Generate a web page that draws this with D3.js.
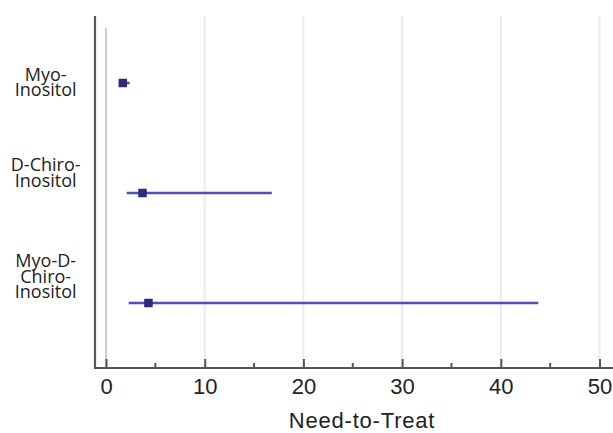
<!DOCTYPE html>
<html><head><meta charset="utf-8">
<script src="https://cdn.jsdelivr.net/npm/d3@7"></script>
<style>html,body{margin:0;padding:0;background:#fff;}svg{display:block;}</style>
</head><body>
<svg id="c" width="613" height="433"></svg>
<script>
const categories = ["Myo-Inositol", "D-Chiro-Inositol", "Myo-D-Chiro-Inositol"];
const labelLines = [["Myo-", "Inositol"], ["D-Chiro-", "Inositol"], ["Myo-D-", "Chiro-", "Inositol"]];
const estimates = [1.7, 3.7, 4.3];
const lower = [1.5, 2.1, 2.3];
const upper = [2.4, 16.8, 43.8];
const xTicks = [0, 10, 20, 30, 40, 50];
const xMinorTicks = [5, 15, 25, 35, 45];
const xTitle = "Need-to-Treat";

const svg = d3.select("#c");
const W = 613;
const axisLeft = 95, axisTop = 16, axisBottom = 368;
const x = d3.scaleLinear().domain([0, 50]).range([106, 599.5]);
const y = d3.scalePoint().domain(categories).range([28, 358]).padding(0.5);

// gridlines
svg.append("g").selectAll("line").data(xTicks.filter(d => d !== 0)).join("line")
  .attr("x1", d => x(d)).attr("x2", d => x(d))
  .attr("y1", axisTop).attr("y2", axisBottom)
  .attr("stroke", "#ebebeb").attr("stroke-width", 2);

// zero reference line
svg.append("line")
  .attr("x1", x(0)).attr("x2", x(0))
  .attr("y1", 28).attr("y2", axisBottom)
  .attr("stroke", "#a3a3e6").attr("stroke-width", 1.2);

// CI whiskers
const rows = categories.map((c, i) => ({c, est: estimates[i], lo: lower[i], hi: upper[i], lines: labelLines[i]}));
svg.append("g").selectAll("line").data(rows).join("line")
  .attr("x1", d => x(d.lo)).attr("x2", d => x(d.hi))
  .attr("y1", d => y(d.c)).attr("y2", d => y(d.c))
  .attr("stroke", "#5050b4").attr("stroke-width", 2.6);

// point estimates
const s = 8.5;
svg.append("g").selectAll("rect").data(rows).join("rect")
  .attr("x", d => x(d.est) - s / 2).attr("y", d => y(d.c) - s / 2)
  .attr("width", s).attr("height", s)
  .attr("fill", "#2c2b7e");

// x axis
const xAxis = d3.axisBottom(x).tickValues(xTicks).tickSize(-9).tickFormat(d3.format("d"));
const gx = svg.append("g").attr("transform", `translate(0,${axisBottom})`).call(xAxis);
gx.select(".domain").remove();
gx.selectAll(".tick line").attr("stroke", "#555").attr("stroke-width", 2);
gx.selectAll(".tick text").attr("y", 10).attr("dy", "0.71em")
  .attr("font-family", "'Liberation Sans', Arial, sans-serif").attr("font-size", 22).attr("fill", "#222");
svg.append("g").selectAll("line").data(xMinorTicks).join("line")
  .attr("x1", d => x(d)).attr("x2", d => x(d))
  .attr("y1", axisBottom).attr("y2", axisBottom - 5)
  .attr("stroke", "#555").attr("stroke-width", 2);

// frame lines
svg.append("line").attr("x1", axisLeft).attr("x2", W).attr("y1", axisBottom).attr("y2", axisBottom)
  .attr("stroke", "#555").attr("stroke-width", 2.2);
svg.append("line").attr("x1", axisLeft).attr("x2", axisLeft).attr("y1", axisTop).attr("y2", axisBottom + 1)
  .attr("stroke", "#555").attr("stroke-width", 2.2);

// axis title
svg.append("text").attr("x", 362).attr("y", 428).attr("text-anchor", "middle")
  .attr("font-family", "'Liberation Sans', Arial, sans-serif").attr("font-size", 22)
  .attr("letter-spacing", 0.8).attr("fill", "#222").text(xTitle);

// category labels (last-line baseline offset relative to row centre)
const lastBaselineOffset = [13.3, -6.3, -5];
const lineH = 15.5;
const lg = svg.append("g").attr("font-family", "'Open Sans', sans-serif")
  .attr("font-size", 18).attr("fill", "#222").attr("text-anchor", "middle");
rows.forEach((d, i) => {
  const n = d.lines.length;
  const base = y(d.c) + lastBaselineOffset[i];
  d.lines.forEach((t, j) => {
    lg.append("text").attr("x", 45.7).attr("y", base - (n - 1 - j) * lineH).text(t);
  });
});
</script>
</body></html>
